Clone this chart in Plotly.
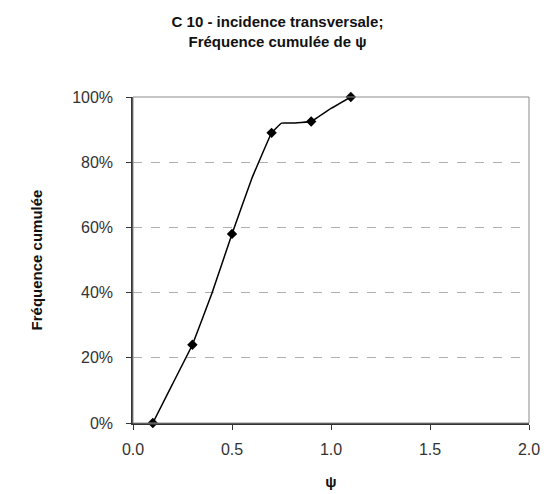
import plotly.graph_objects as go

# Marker series (psi, cumulative frequency %)
psi_points = [0.1, 0.3, 0.5, 0.7, 0.9, 1.1]
freq_points = [0, 24, 58, 89, 92.5, 100]

# Connecting curve
psi_curve = [0.1, 0.2, 0.3, 0.4, 0.5, 0.6, 0.7, 0.75, 0.8, 0.9, 1.0, 1.1]
freq_curve = [0, 12, 24, 40, 58, 75, 89, 92, 92, 92.5, 96.5, 100]

x_ticks = [0.0, 0.5, 1.0, 1.5, 2.0]
x_tick_labels = ["0.0", "0.5", "1.0", "1.5", "2.0"]
y_ticks = [0, 20, 40, 60, 80, 100]
y_tick_labels = ["0%", "20%", "40%", "60%", "80%", "100%"]

FONT = "Liberation Sans, Arial, sans-serif"

fig = go.Figure()
fig.add_trace(go.Scatter(
    x=psi_curve, y=freq_curve, mode="lines",
    line=dict(color="black", width=1.5, shape="spline", smoothing=0.2),
    hoverinfo="skip", showlegend=False, cliponaxis=False,
))
fig.add_trace(go.Scatter(
    x=psi_points, y=freq_points, mode="markers",
    marker=dict(symbol="diamond", color="black", size=8),
    showlegend=False, cliponaxis=False,
))

fig.add_shape(type="rect", xref="x domain", yref="y domain",
              x0=0, x1=1, y0=0, y1=1,
              line=dict(color="#8a8a8a", width=1), layer="above")

fig.update_layout(
    width=555, height=494,
    margin=dict(l=133, r=26, t=97, b=71),
    paper_bgcolor="white", plot_bgcolor="white",
    font=dict(family=FONT, size=15, color="#222222"),
    title=dict(
        text="<b>C 10 - incidence transversale;<br>Fréquence cumulée de ψ</b>",
        x=0.5, xanchor="center", y=1 - 27 / 494, yanchor="middle",
        font=dict(family=FONT, size=15, color="#111111"),
    ),
    xaxis=dict(
        range=[0, 2], tickvals=x_ticks, ticktext=x_tick_labels,
        showgrid=False, zeroline=False, automargin=False,
        showline=True, linecolor="#333333", linewidth=1.5,
        ticks="outside", ticklen=5, tickcolor="#333333",
        ticklabelstandoff=6,
        tickfont=dict(family=FONT, size=16, color="#333333"),
        title=dict(text="<b>ψ</b>", font=dict(family=FONT, size=15, color="#111111"), standoff=20),
    ),
    yaxis=dict(
        range=[0, 100], tickvals=y_ticks, ticktext=y_tick_labels,
        showgrid=True, gridcolor="#b0b0b0", griddash="dash", gridwidth=1,
        zeroline=False, automargin=False,
        showline=True, linecolor="#333333", linewidth=1.5,
        ticks="outside", ticklen=5, tickcolor="#333333",
        ticklabelstandoff=10,
        tickfont=dict(family=FONT, size=16, color="#333333"),
        title=dict(text="<b>Fréquence cumulée</b>", font=dict(family=FONT, size=15, color="#111111"), standoff=26),
    ),
)

fig.write_html("out.html", post_script="document.body.style.margin='0';",
               config={"displayModeBar": False})
